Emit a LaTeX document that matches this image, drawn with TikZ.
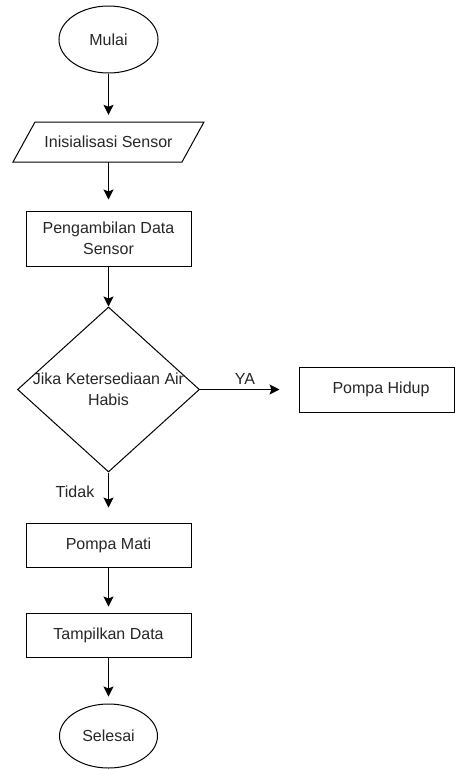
\documentclass[tikz,border=0pt]{standalone}
\usepackage{fontspec}
\setmainfont{Liberation Sans}
\usetikzlibrary{shapes.geometric,arrows.meta}
\begin{document}
\begin{tikzpicture}[x=1pt,y=-1pt,
  every node/.style={font=\fontsize{16}{21}\selectfont, text=black!85},
  shp/.style={draw, line width=1pt, inner sep=0pt},
  box/.style={shp, minimum width=165pt},
  flow/.style={draw, line width=1pt, -{Stealth[length=10pt,width=10pt,inset=2pt]}},
]
\useasboundingbox (0,0) rectangle (455,769);

\node[shp, ellipse, minimum width=99pt, minimum height=67pt] (mulai) at (108.5,39.5) {Mulai};

\node[minimum width=169pt, minimum height=40pt, inner sep=0pt] (init) at (108.5,142) {Inisialisasi Sensor};
\draw[line width=1pt] (35,122) -- (204,122) -- (182,162) -- (13,162) -- cycle;

\node[box, minimum height=55pt, align=center] (peng) at (108.5,238.5) {Pengambilan Data\\Sensor};

\node[shp, diamond, minimum width=182pt, minimum height=165pt] (dec) at (108.5,389.5) {};
\node[align=center, inner sep=0pt] (dectext) at (dec.center) {Jika Ketersediaan Air\\Habis};

\node[shp, minimum width=155pt, minimum height=45pt] (hidup) at (376.5,389.5) {};
\node (hiduptext) at (381,389.5) {Pompa Hidup};

\node[box, minimum height=44pt] (mati) at (108.5,545) {Pompa Mati};
\node[box, minimum height=44pt] (tamp) at (108.5,635) {Tampilkan Data};
\node[shp, ellipse, minimum width=98pt, minimum height=64pt] (selesai) at (108.5,736) {Selesai};

\draw[flow, shorten >=7pt] (mulai) -- (init);
\draw[flow, shorten >=11pt] (init) -- (peng);
\draw[flow] (peng) -- (dec);
\draw[flow, shorten >=19pt] (dec.east) -- (hidup.west);
\node (ya) at (245,379) {YA};
\draw[flow, shorten >=15pt] (dec.south) -- (mati.north);
\node (tidak) at (75,492) {Tidak};
\draw[flow, shorten >=6pt] (mati) -- (tamp);
\draw[flow, shorten >=7pt] (tamp) -- (selesai);
\end{tikzpicture}
\end{document}
